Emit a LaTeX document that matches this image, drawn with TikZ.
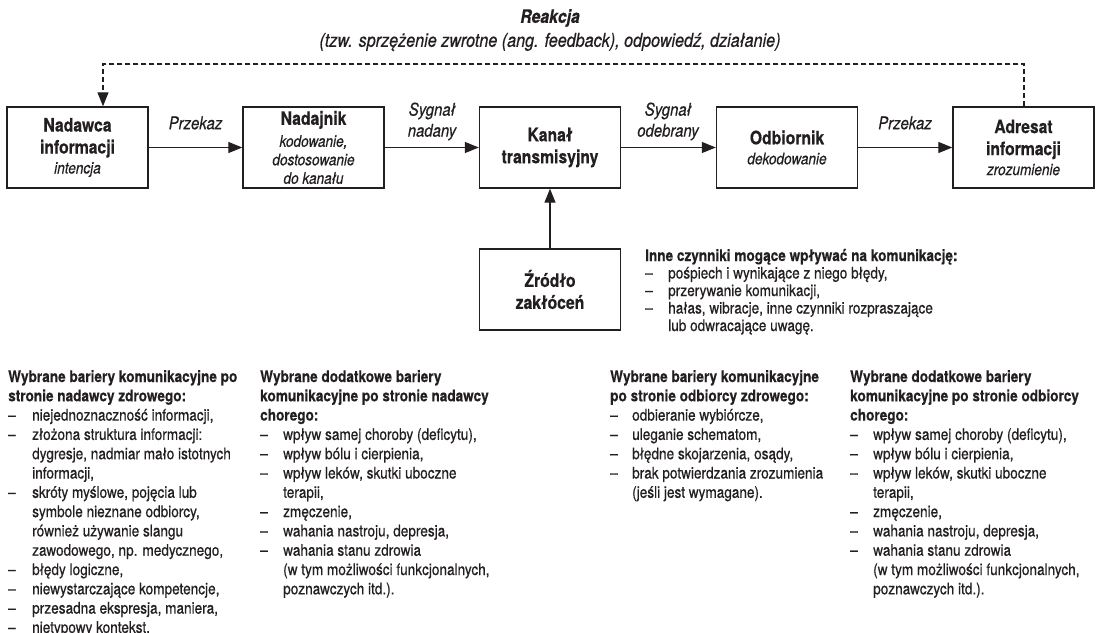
\documentclass[tikz,border=0pt]{standalone}
\usepackage{fontspec}
\setmainfont{TeX Gyre Heros}[FakeStretch=0.85,
  UprightFeatures={FakeBold=0.6}, ItalicFeatures={FakeBold=0.5},
  BoldFeatures={FakeBold=0.4}, BoldItalicFeatures={FakeBold=0.4}]
\usetikzlibrary{arrows.meta}
\definecolor{ink}{HTML}{231F20}
% fonts for the lists and the small italic lines inside the boxes
\newcommand{\listfont}{\fontsize{16}{19.3}\selectfont}
\newcommand{\innefont}{\fontsize{16}{17.5}\selectfont}
\newcommand{\opis}[1]{{\mdseries\itshape\fontsize{16}{19}\selectfont #1}}
\newcommand{\pkt}{\textendash &}
\begin{document}
\begin{tikzpicture}[x=1pt,y=-1pt,
  blok/.style={draw=ink, line width=1.4pt, minimum width=141pt, minimum height=81pt,
    inner sep=0pt, align=center, text=ink, font=\fontsize{18.5}{22}\selectfont\bfseries},
  strz/.style={draw=ink, line width=1.2pt, -{Triangle[length=14pt,width=11pt]}},
  podpis/.style={font=\fontsize{17.5}{21}\selectfont\itshape, align=center, text=ink, inner sep=0pt},
  lista/.style={anchor=base west, inner sep=0pt, text=ink, font=\listfont},
]
\useasboundingbox (0,0) rectangle (1100,632);

% title
\node[font=\fontsize{18.5}{22}\selectfont\bfseries\itshape, text=ink] (tytul) at (550,18) {Reakcja};
\node[font=\fontsize{19}{22}\selectfont\itshape, text=ink] (podtytul) at (550,42)
  {(tzw. sprzężenie zwrotne (ang. feedback), odpowiedź, działanie)};

% main chain
\node[blok] (nadawca) at (77.5,147.5) {Nadawca\\informacji\\[-2pt]\opis{intencja}};
\node[blok] (nadajnik) at (313.5,147.5) {Nadajnik\\[0pt]\opis{kodowanie,}\\[-3.5pt]\opis{dostosowanie}\\[-3.5pt]\opis{do kanału}};
\node[blok] (kanal) at (550,147.5) {Kanał\\transmisyjny};
\node[blok] (odbiornik) at (787,147.5) {Odbiornik\\[-2pt]\opis{dekodowanie}};
\node[blok] (adresat) at (1023.5,147.5) {Adresat\\informacji\\[-2pt]\opis{zrozumienie}};
\node[blok] (zrodlo) at (550,289.5) {Źródło\\zakłóceń};

\draw[strz] (nadawca) -- (nadajnik);
\draw[strz] (nadajnik) -- (kanal);
\draw[strz] (kanal) -- (odbiornik);
\draw[strz] (odbiornik) -- (adresat);
\draw[strz] (zrodlo) -- (kanal);

\node[podpis] (p1) at (195.5,123) {Przekaz};
\node[podpis] (p2) at (432,121.5) {Sygnał\\nadany};
\node[podpis] (p3) at (668,121.5) {Sygnał\\odebrany};
\node[podpis] (p4) at (905,123) {Przekaz};

% feedback loop
\coordinate (fbL) at (103,64);
\coordinate (fbR) at (1024,64);
\draw[draw=ink, line width=1.1pt, dash pattern=on 5pt off 3pt,
  -{Triangle[length=14pt,width=11pt]}]
  (adresat.north -| fbR) -- (fbR) -- (fbL) -- (nadawca.north -| fbL);

% other factors
\node[lista, font=\innefont] (inne) at (645,261) {\begin{tabular}[t]{@{}p{23pt}@{}l@{}}
\multicolumn{2}{@{}l@{}}{\bfseries Inne czynniki mogące wpływać na komunikację:}\\
\pkt pośpiech i wynikające z niego błędy,\\
\pkt przerywanie komunikacji,\\
\pkt hałas, wibracje, inne czynniki rozpraszające\\
& lub odwracające uwagę.
\end{tabular}};

% barrier lists
\node[lista] (bar1) at (8,382) {\begin{tabular}[t]{@{}p{24pt}@{}l@{}}
\multicolumn{2}{@{}l@{}}{\bfseries Wybrane bariery komunikacyjne po}\\
\multicolumn{2}{@{}l@{}}{\bfseries stronie nadawcy zdrowego:}\\
\pkt niejednoznaczność informacji,\\
\pkt złożona struktura informacji:\\
& dygresje, nadmiar mało istotnych\\
& informacji,\\
\pkt skróty myślowe, pojęcia lub\\
& symbole nieznane odbiorcy,\\
& również używanie slangu\\
& zawodowego, np. medycznego,\\
\pkt błędy logiczne,\\
\pkt niewystarczające kompetencje,\\
\pkt przesadna ekspresja, maniera,\\
\pkt nietypowy kontekst.
\end{tabular}};

\node[lista] (bar2) at (260,382) {\begin{tabular}[t]{@{}p{23pt}@{}l@{}}
\multicolumn{2}{@{}l@{}}{\bfseries Wybrane dodatkowe bariery}\\
\multicolumn{2}{@{}l@{}}{\bfseries komunikacyjne po stronie nadawcy}\\
\multicolumn{2}{@{}l@{}}{\bfseries chorego:}\\
\pkt wpływ samej choroby (deficytu),\\
\pkt wpływ bólu i cierpienia,\\
\pkt wpływ leków, skutki uboczne\\
& terapii,\\
\pkt zmęczenie,\\
\pkt wahania nastroju, depresja,\\
\pkt wahania stanu zdrowia\\
& (w tym możliwości funkcjonalnych,\\
& poznawczych itd.).
\end{tabular}};

\node[lista] (bar3) at (610,382) {\begin{tabular}[t]{@{}p{22pt}@{}l@{}}
\multicolumn{2}{@{}l@{}}{\bfseries Wybrane bariery komunikacyjne}\\
\multicolumn{2}{@{}l@{}}{\bfseries po stronie odbiorcy zdrowego:}\\
\pkt odbieranie wybiórcze,\\
\pkt uleganie schematom,\\
\pkt błędne skojarzenia, osądy,\\
\pkt brak potwierdzania zrozumienia\\
& (jeśli jest wymagane).
\end{tabular}};

\node[lista] (bar4) at (850,382) {\begin{tabular}[t]{@{}p{23pt}@{}l@{}}
\multicolumn{2}{@{}l@{}}{\bfseries Wybrane dodatkowe bariery}\\
\multicolumn{2}{@{}l@{}}{\bfseries komunikacyjne po stronie odbiorcy}\\
\multicolumn{2}{@{}l@{}}{\bfseries chorego:}\\
\pkt wpływ samej choroby (deficytu),\\
\pkt wpływ bólu i cierpienia,\\
\pkt wpływ leków, skutki uboczne\\
& terapii,\\
\pkt zmęczenie,\\
\pkt wahania nastroju, depresja,\\
\pkt wahania stanu zdrowia\\
& (w tym możliwości funkcjonalnych,\\
& poznawczych itd.).
\end{tabular}};
\end{tikzpicture}
\end{document}
